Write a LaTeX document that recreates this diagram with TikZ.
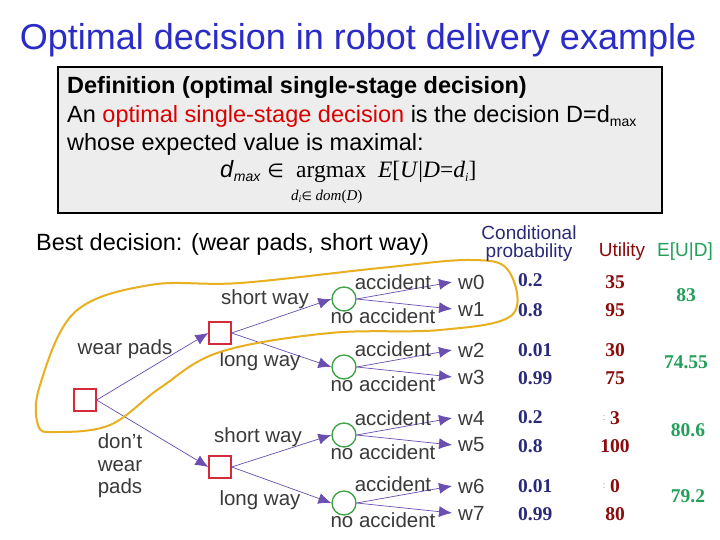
\documentclass[tikz,border=0pt]{standalone}
\usepackage{fontspec}
\setmainfont{Liberation Sans}
\newfontfamily\serifnum{Liberation Serif}
\newfontfamily\dejavu{DejaVu Sans}
\usetikzlibrary{arrows.meta}
\definecolor{ttl}{HTML}{2B2BC8}
\definecolor{dred}{HTML}{8B0A0A}
\definecolor{dblue}{HTML}{2A2A78}
\definecolor{egreen}{HTML}{22A05A}
\definecolor{arr}{HTML}{6A4FB0}
\definecolor{cred}{HTML}{D42A3A}
\definecolor{cgreen}{HTML}{3AA040}
\definecolor{loopy}{HTML}{E8B020}
\definecolor{lbl}{HTML}{3A3A3A}
\begin{document}
\begin{tikzpicture}[x=1pt,y=-1pt,
  dec/.style={draw=cred,line width=1.3pt,minimum size=22pt,inner sep=0pt},
  chance/.style={circle,draw=cgreen,line width=1.3pt,minimum size=24pt,inner sep=0pt},
  edge/.style={draw=arr,line width=0.7pt,-{Latex[length=13pt,width=11pt]}},
  lab/.style={font=\fontsize{20.5}{20.5}\selectfont,text=lbl,inner sep=0pt},
  wl/.style={font=\fontsize{20.5}{20.5}\selectfont,text=lbl,inner sep=0pt,anchor=west},
  pr/.style={font=\serifnum\bfseries\fontsize{19.5}{19.5}\selectfont,text=dblue,anchor=west,inner sep=0pt},
  ut/.style={font=\serifnum\bfseries\fontsize{19.5}{19.5}\selectfont,text=dred,inner sep=0pt},
  eu/.style={font=\serifnum\bfseries\fontsize{19.5}{19.5}\selectfont,text=egreen,inner sep=0pt}]
\useasboundingbox (0,0) rectangle (720,540);
\fill[white] (0,0) rectangle (720,540);
\node[font=\fontsize{36}{36}\selectfont,text=ttl] (title) at (358,40) {Optimal decision in robot delivery example};
\draw[fill=black!7,line width=2.5pt] (58,67) rectangle (662,213);
\node[anchor=west,font=\bfseries\fontsize{23.5}{23.5}\selectfont,inner sep=0pt] (d1) at (67,87) {Definition (optimal single-stage decision)};
\node[anchor=west,font=\fontsize{23.5}{23.5}\selectfont,inner sep=0pt] (d2) at (67,116) {An \textcolor{red!85!black}{optimal single-stage decision} is the decision D=d\raisebox{-4pt}{\fontsize{14}{14}\selectfont max}};
\node[anchor=west,font=\fontsize{23.5}{23.5}\selectfont,inner sep=0pt] (d3) at (67,144) {whose expected value is maximal:};
\node[anchor=west,font=\fontsize{23.5}{23.5}\selectfont,inner sep=0pt] (d4) at (220,172) {\textit{d}\raisebox{-4pt}{\fontsize{14}{14}\selectfont\textit{max}} {\dejavu\fontsize{19}{19}\selectfont ∈} \serifnum\ argmax \ \textit{E}[\textit{U}|\textit{D}=\textit{d}\raisebox{-4pt}{\fontsize{12}{12}\selectfont\textit{i}}]};
\node[anchor=west,font=\serifnum\fontsize{15}{15}\selectfont,inner sep=0pt] (d5) at (291,197) {\textit{d}\raisebox{-2pt}{\fontsize{10}{10}\selectfont\textit{i}}{\dejavu\fontsize{12}{12}\selectfont ∈} \textit{dom}(\textit{D})};
\node[anchor=west,font=\fontsize{23.5}{23.5}\selectfont,inner sep=0pt] (best) at (36,244) {Best decision: (wear pads, short way)};
% tree
\node[dec] (r) at (85,400) {};
\node[dec] (a) at (220,333) {};
\node[dec] (b) at (220,467) {};
\node[chance] (c0) at (344,299) {};
\node[chance] (c1) at (344,367) {};
\node[chance] (c2) at (344,435) {};
\node[chance] (c3) at (344,503) {};
\foreach \i/\y in {0/282,1/309,2/350,3/377,4/418,5/445,6/486,7/513}{
  \coordinate (t\i) at (452,\y);
  \node[wl] (w\i) at (458,\y) {w\i};
}
\draw[edge] (r.east) -- (a.west);
\draw[edge] (r.east) -- (b.west);
\draw[edge] (a.east) -- (c0.west);
\draw[edge] (a.east) -- (c1.west);
\draw[edge] (b.east) -- (c2.west);
\draw[edge] (b.east) -- (c3.west);
\draw[edge] (c0.east) -- (t0); \draw[edge] (c0.east) -- (t1);
\draw[edge] (c1.east) -- (t2); \draw[edge] (c1.east) -- (t3);
\draw[edge] (c2.east) -- (t4); \draw[edge] (c2.east) -- (t5);
\draw[edge] (c3.east) -- (t6); \draw[edge] (c3.east) -- (t7);
\node[lab] (l1) at (125,349) {wear pads};
\node[lab,align=center] (l2) at (120,466) {don’t\\[2pt]wear\\[2pt]pads};
\node[lab] (l3) at (265,299) {short way};
\node[lab] (l4) at (260,361) {long way};
\node[lab] (l5) at (258,437) {short way};
\node[lab] (l6) at (260,500) {long way};
\foreach \k/\ya/\yn in {0/282/316,1/349/384,2/418/452,3/484/520}{
  \node[lab] (ac\k) at (393,\ya) {accident};
  \node[lab] (na\k) at (383,\yn) {no accident};
}
% yellow loop
\draw[loopy,line width=2pt] plot[smooth cycle,tension=0.6] coordinates {(38,425) (40,385) (75,312) (150,285) (240,283) (380,268) (470,260) (508,270) (512,315) (440,330) (330,333) (220,352) (160,388) (110,425) (55,432)};
% columns
\node[font=\fontsize{19}{19}\selectfont,text=dblue,align=center] (cp) at (529,244) {Conditional\\[-1pt]probability};
\node[font=\fontsize{19}{19}\selectfont,text=dred] (uh) at (622,252) {Utility};
\node[font=\fontsize{19}{19}\selectfont,text=egreen] (eh) at (685,252) {E[U|D]};
\foreach \p/\y in {0.2/280,0.8/310,0.01/350,0.99/378,0.2/417,0.8/446,0.01/486,0.99/514}{
  \node[pr] at (518,\y) {\p};
}
\foreach \u/\y in {35/282,95/310,30/350,75/378,3/418,100/446,0/486,80/514}{
  \node[ut] at (615,\y) {\u};
}
\node[font=\fontsize{9}{9}\selectfont,text=black!50] (m1) at (604,418) {:};
\node[font=\fontsize{9}{9}\selectfont,text=black!50] (m2) at (604,486) {:};
\node[eu] (e0) at (686,295) {83};
\node[eu] (e1) at (686,362) {74.55};
\node[eu] (e2) at (688,430) {80.6};
\node[eu] (e3) at (688,496) {79.2};
\end{tikzpicture}
\end{document}
